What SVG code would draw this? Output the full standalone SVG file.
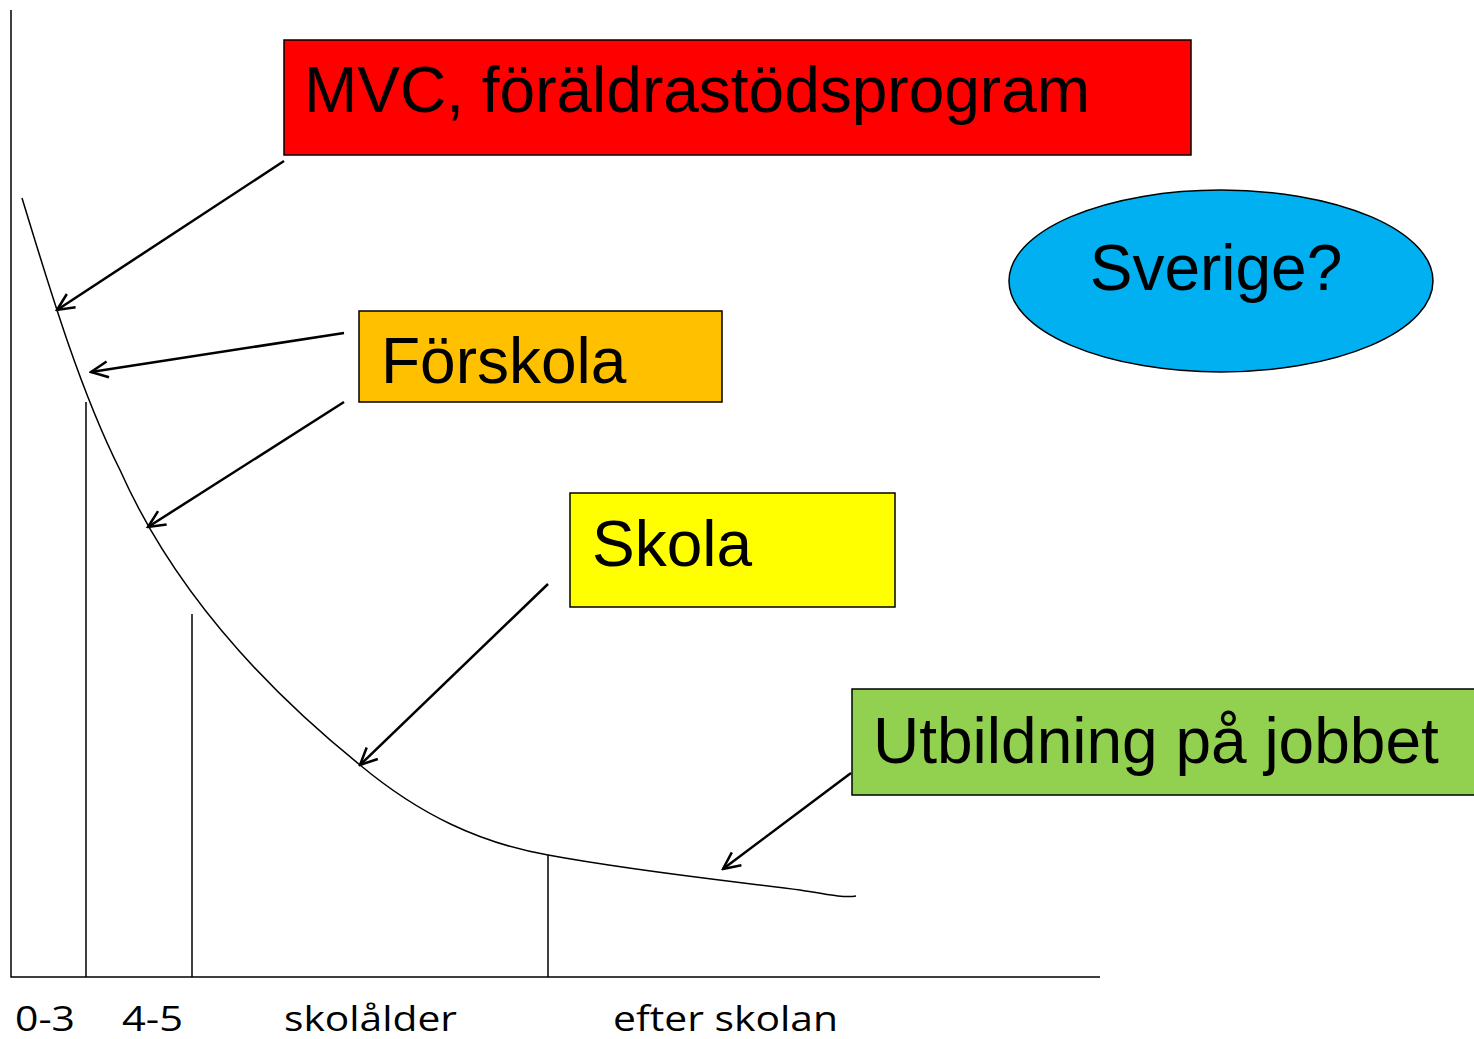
<svg xmlns="http://www.w3.org/2000/svg" width="1474" height="1039" viewBox="0 0 1474 1039">
<defs>
<marker id="open" viewBox="0 0 22 22" refX="20" refY="11" markerWidth="22" markerHeight="22" markerUnits="userSpaceOnUse" orient="auto">
<path d="M3,3 L20,11 L3,19" fill="none" stroke="#000" stroke-width="2.5"/>
</marker>
<style>
.box{stroke:#000;stroke-width:1.5}
.big{font-family:"Liberation Sans",Arial,sans-serif;font-size:64px;fill:#000}
.ax{font-family:"Open Sans","Noto Sans",sans-serif;font-size:35px;fill:#000}
.thin{stroke:#000;stroke-width:1.5;fill:none}
.arr{stroke:#000;stroke-width:2.5;fill:none;marker-end:url(#open)}
</style>
</defs>
<rect width="1474" height="1039" fill="#fff"/>
<g id="axes">
<path class="thin" d="M11,10 V977 H1100"/>
<path class="thin" d="M86,402 V977 M192,614 V977 M548,855 V977"/>
<path class="thin" d="M22,198 C50,290 80,390 120,470 C160,560 230,660 360,765 C420,815 480,843 548,855 C640,872 740,882 800,890 C830,895 845,898 856,896"/>
</g>
<g id="mvc">
<rect class="box" x="284" y="40" width="907" height="115" fill="#FF0000"/>
<text class="big" x="304" y="112">MVC, föräldrastödsprogram</text>
</g>
<g id="forskola">
<rect class="box" x="359" y="311" width="363" height="91" fill="#FFC000"/>
<text class="big" x="381" y="383">Förskola</text>
</g>
<g id="skola">
<rect class="box" x="570" y="493" width="325" height="114" fill="#FFFF00"/>
<text class="big" x="592" y="566">Skola</text>
</g>
<g id="utbildning">
<rect class="box" x="852" y="689" width="630" height="106" fill="#92D050"/>
<text class="big" x="873" y="763">Utbildning på jobbet</text>
</g>
<g id="sverige">
<ellipse class="box" cx="1221" cy="281" rx="212" ry="91" fill="#00B0F0"/>
<text class="big" x="1216" y="290" text-anchor="middle">Sverige?</text>
</g>
<g id="connectors">
<line class="arr" x1="284" y1="161" x2="57" y2="310"/>
<line class="arr" x1="344" y1="333" x2="91" y2="372"/>
<line class="arr" x1="344" y1="402" x2="148" y2="527"/>
<line class="arr" x1="548" y1="584" x2="360" y2="765"/>
<line class="arr" x1="851" y1="773" x2="723" y2="869"/>
</g>
<g id="labels">
<text class="ax" x="15" y="1031" textLength="60" lengthAdjust="spacingAndGlyphs">0-3</text>
<text class="ax" x="122" y="1031" textLength="61" lengthAdjust="spacingAndGlyphs">4-5</text>
<text class="ax" x="284" y="1031" textLength="173" lengthAdjust="spacingAndGlyphs">skolålder</text>
<text class="ax" x="613" y="1031" textLength="225" lengthAdjust="spacingAndGlyphs">efter skolan</text>
</g>
</svg>
